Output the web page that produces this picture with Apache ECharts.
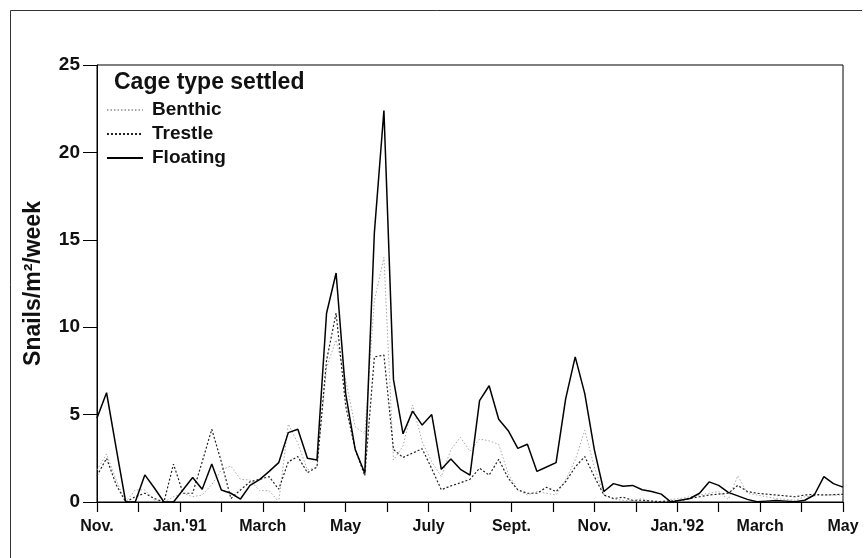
<!DOCTYPE html>
<html>
<head>
<meta charset="utf-8">
<script src="https://cdn.jsdelivr.net/npm/echarts@6/dist/echarts.min.js"></script>
<style>
html,body{margin:0;padding:0;background:#fff;}
#chart{width:866px;height:558px;}
</style>
</head>
<body>
<div id="chart"></div>
<script>
// Weekly samples, Nov. 1990 – May 1992 (79 weeks)
const benthic = [1.83,2.75,1.26,0,0.69,0.69,0.1,0,0.3,0.5,
  0.3,0.4,1.0,1.83,2.06,1.3,1.26,0.65,0.65,0,
  4.46,3.36,1.83,2.0,7.7,9.27,7.0,4.3,3.9,11.5,
  14.0,2.4,3.2,5.55,3.45,2.3,1.45,3.0,3.7,2.9,
  3.6,3.5,3.3,1.6,0.7,0.4,0.6,0.5,0.4,1.26,
  2.4,4.1,2.0,0.4,0.17,0.1,0.05,0.2,0.0,0.05,
  0.15,0.2,0.3,0.4,0.5,0.6,0.15,1.5,0.5,0.4,
  0.3,0.2,0.15,0.1,0.3,0.35,0.4,0.4,0.4];
const trestle = [1.5,2.5,1.0,0,0.3,0.5,0.2,0,2.17,0.5,
  0.5,2.3,4.16,2.3,0.2,0.69,1.16,1.3,1.45,0.73,
  2.3,2.6,1.68,2.0,8.1,10.8,5.5,3.0,1.5,8.3,
  8.4,3.0,2.55,2.8,3.05,1.9,0.7,0.92,1.1,1.3,
  1.93,1.54,2.44,1.36,0.69,0.5,0.5,0.84,0.6,1.16,
  2.0,2.6,1.45,0.4,0.2,0.27,0.1,0.1,0.05,0.02,
  0.05,0.1,0.2,0.3,0.4,0.45,0.5,0.95,0.6,0.5,
  0.45,0.4,0.35,0.3,0.4,0.44,0.4,0.42,0.44];
const floating = [4.8,6.25,3.1,0,0,1.55,0.8,0,0,0.7,
  1.4,0.73,2.17,0.69,0.5,0.17,0.95,1.28,1.75,2.25,
  3.97,4.16,2.5,2.4,10.8,13.1,6.2,3.0,1.64,15.4,
  22.4,7.0,3.9,5.2,4.4,5.0,1.87,2.46,1.87,1.54,
  5.8,6.65,4.73,4.08,3.07,3.3,1.75,2.0,2.25,5.9,
  8.3,6.2,3.0,0.6,1.05,0.9,0.95,0.7,0.6,0.45,
  0.0,0.1,0.2,0.5,1.15,0.95,0.55,0.35,0.15,0.02,
  0.05,0.08,0.05,0.02,0.1,0.4,1.45,1.05,0.85];
const weeks = floating.map((_, i) => 'W' + (i + 1));
const monthLabels = ['Nov.','',"Jan.'91",'','March','','May','','July','',
  'Sept.','','Nov.','',"Jan.'92",'','March','','May'];
const yTicks = [0,5,10,15,20,25];
const seriesNames = ['Benthic','Trestle','Floating'];

const chart = echarts.init(document.getElementById('chart'), null, {renderer:'canvas'});
const FONT = '"Liberation Sans", Arial, sans-serif';
chart.setOption({
  animation: false,
  backgroundColor: '#fff',
  title: {
    text: 'Cage type settled',
    left: 114, top: 71, padding: 0,
    textStyle: {fontFamily: FONT, fontWeight: 'bold', fontSize: 23, color: '#111'}
  },
  legend: {
    orient: 'vertical',
    left: 106, top: 100, padding: 0,
    itemWidth: 36, itemHeight: 14, itemGap: 4,
    data: seriesNames,
    itemStyle: {opacity: 0},
    textStyle: {fontFamily: FONT, fontWeight: 'bold', fontSize: 19, color: '#111', lineHeight: 20, padding: [0,0,0,4]}
  },
  grid: {left: 97, right: 23, top: 65, bottom: 56, show: true, borderColor: '#000', borderWidth: 1, backgroundColor: 'transparent'},
  xAxis: [
    {type: 'category', data: weeks, boundaryGap: false, show: false},
    {type: 'value', min: 0, max: monthLabels.length - 1, interval: 1, position: 'bottom',
     axisLine: {show: true, lineStyle: {color: '#000', width: 1}},
     axisTick: {show: true, length: 10, lineStyle: {color: '#000', width: 1.2}},
     axisLabel: {margin: 17, fontFamily: FONT, fontWeight: 'bold', fontSize: 16, color: '#111',
       formatter: v => monthLabels[Math.round(v)] || ''},
     splitLine: {show: false}}
  ],
  yAxis: {
    type: 'value', min: yTicks[0], max: yTicks[yTicks.length-1], interval: 5,
    name: 'Snails/m²/week', nameLocation: 'middle', nameGap: 52, nameRotate: 90,
    nameTextStyle: {fontFamily: FONT, fontWeight: 'bold', fontSize: 23, color: '#111'},
    axisLine: {show: true, lineStyle: {color: '#000', width: 1}},
    axisTick: {show: true, length: 14, lineStyle: {color: '#000', width: 1}},
    axisLabel: {margin: 17, fontFamily: FONT, fontWeight: 'bold', fontSize: 19, color: '#111'},
    splitLine: {show: false}
  },
  graphic: [{
    type: 'polyline', silent: true,
    shape: {points: [[10.5, 558], [10.5, 10.5], [862, 10.5]]},
    style: {stroke: '#333', lineWidth: 1, fill: null}
  }],
  series: [
    {name: seriesNames[0], type: 'line', xAxisIndex: 0, data: benthic, symbol: 'none',
     lineStyle: {color: '#a8a8a8', width: 1, type: [1.5, 2]}, itemStyle: {color: '#a8a8a8'}},
    {name: seriesNames[1], type: 'line', xAxisIndex: 0, data: trestle, symbol: 'none',
     lineStyle: {color: '#222', width: 1.2, type: [2, 2]}, itemStyle: {color: '#222'}},
    {name: seriesNames[2], type: 'line', xAxisIndex: 0, data: floating, symbol: 'none',
     lineStyle: {color: '#000', width: 1.5, type: 'solid'}, itemStyle: {color: '#000'}}
  ]
});
</script>
</body>
</html>
